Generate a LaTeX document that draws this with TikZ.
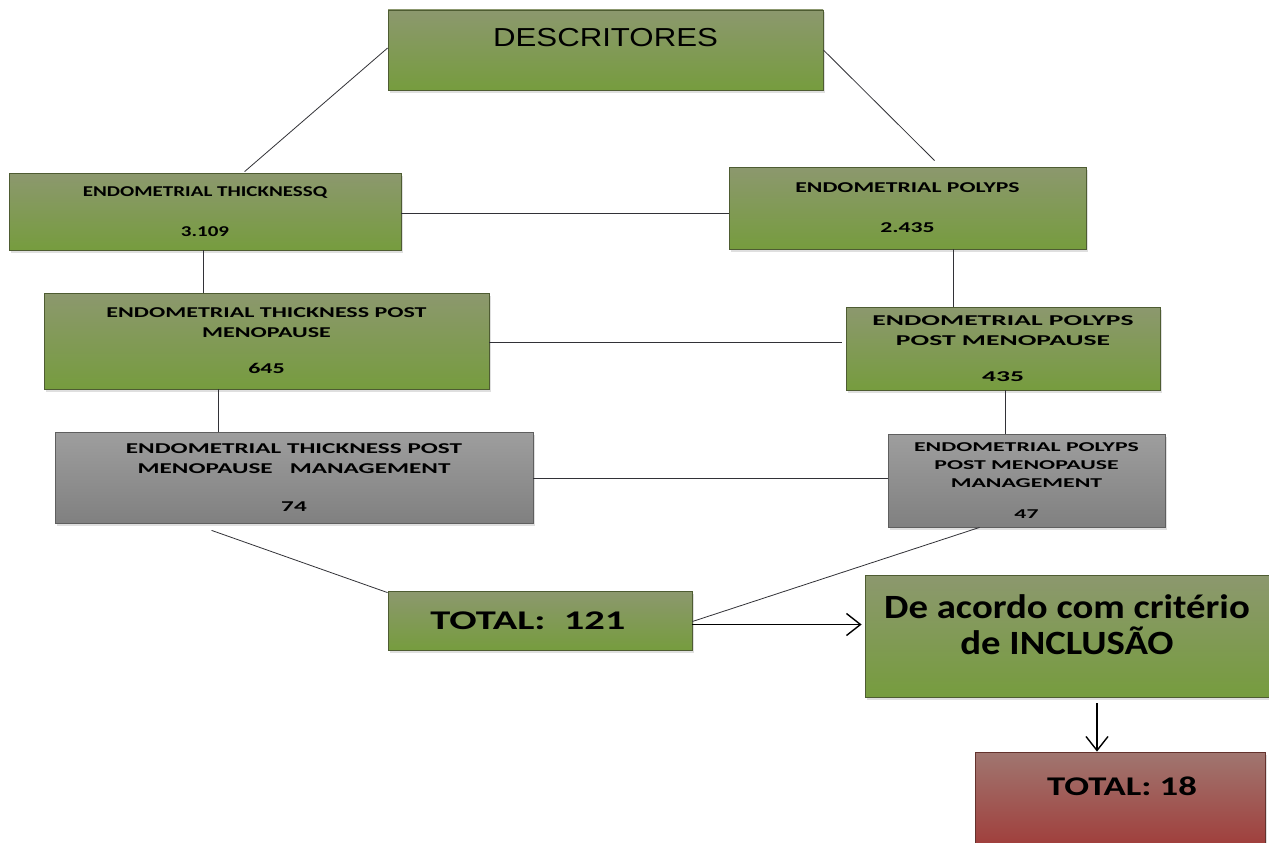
\documentclass[tikz,border=0pt]{standalone}
\usepackage{fontspec}
\setmainfont{Carlito}
\newfontfamily\csA[FakeStretch=1.4]{Carlito}
\newfontfamily\csB[FakeStretch=1.58]{Carlito}
\newfontfamily\csC[FakeStretch=1.6]{Carlito}
\newfontfamily\csD[FakeStretch=1.68]{Carlito}
\newfontfamily\csE[FakeStretch=1.84]{Carlito}
\newfontfamily\csF[FakeStretch=1.76]{Carlito}
\newfontfamily\csT[FakeStretch=1.5]{Carlito}
\newfontfamily\csR[FakeStretch=1.36]{Carlito}
\newfontfamily\csI[FakeStretch=1.14]{Carlito}
\newfontfamily\arialst[FakeStretch=1.2]{Liberation Sans}
\usetikzlibrary{shadows,arrows.meta,calc}
\definecolor{gtop}{RGB}{140,152,110}
\definecolor{gbot}{RGB}{118,156,62}
\definecolor{gline}{RGB}{78,92,50}
\definecolor{ytop}{RGB}{158,158,158}
\definecolor{ybot}{RGB}{128,128,128}
\definecolor{yline}{RGB}{95,95,95}
\definecolor{rtop}{RGB}{160,118,112}
\definecolor{rbot}{RGB}{160,48,46}
\definecolor{rline}{RGB}{100,50,45}
\definecolor{conn}{RGB}{50,50,55}
\tikzset{
  boxbase/.style={rectangle, inner sep=0pt, align=center, text=black,
    drop shadow={shadow xshift=1.5pt, shadow yshift=-2.5pt, opacity=0.25}},
  greenbox/.style={boxbase, draw=gline, line width=0.8pt, top color=gtop, bottom color=gbot},
  graybox/.style={boxbase, draw=yline, line width=0.8pt, top color=ytop, bottom color=ybot},
  redbox/.style={boxbase, draw=rline, line width=0.8pt, top color=rtop, bottom color=rbot},
  conline/.style={draw=conn, line width=0.8pt},
  conarrow/.style={draw=black, line width=1.4pt, -{Straight Barb[length=14pt,width=22pt,line width=1.4pt]}},
}
\begin{document}
\begin{tikzpicture}[x=1pt,y=-1pt]
\useasboundingbox (0,0) rectangle (1269,843);
\fill[white] (0,0) rectangle (1269,843);

\node[greenbox, minimum width=435pt, minimum height=80pt, text depth=26pt,
  font=\arialst\fontsize{26}{30}\selectfont] (desc) at (605.5,50) {DESCRITORES};

\node[greenbox, font=\csA\bfseries\fontsize{15}{20}\selectfont,
  minimum width=392pt, minimum height=77pt] (b1) at (205,211.5)
  {ENDOMETRIAL THICKNESSQ\\[20pt]3.109};
\node[greenbox, font=\csB\bfseries\fontsize{15}{20}\selectfont,
  minimum width=357pt, minimum height=82pt] (b2) at (907.5,208)
  {ENDOMETRIAL POLYPS\\[20pt]2.435};
\node[greenbox, font=\csC\bfseries\fontsize{15}{20}\selectfont,
  minimum width=445pt, minimum height=96pt] (b3) at (266.5,341)
  {ENDOMETRIAL THICKNESS POST\\MENOPAUSE\\[16pt]645};
\node[greenbox, font=\csE\bfseries\fontsize{15}{20}\selectfont,
  minimum width=314pt, minimum height=83pt] (b4) at (1003,348.5)
  {ENDOMETRIAL POLYPS\\POST MENOPAUSE\\[16pt]435};
\node[graybox, font=\csD\bfseries\fontsize{15}{20}\selectfont,
  minimum width=478pt, minimum height=91pt] (b5) at (294,477.5)
  {ENDOMETRIAL THICKNESS POST\\MENOPAUSE\ \ \ MANAGEMENT\\[18pt]74};
\node[graybox, font=\csF\bfseries\fontsize{13.5}{18}\selectfont,
  minimum width=277pt, minimum height=93pt] (b6) at (1026.5,480.5)
  {ENDOMETRIAL POLYPS\\POST MENOPAUSE\\MANAGEMENT\\[13pt]47};
\node[greenbox, minimum width=304pt, minimum height=59pt,
  font=\csT\bfseries\fontsize{27}{30}\selectfont] (b7) at (540,620.5) {TOTAL:\ \ 121\hspace{24pt}};
\node[greenbox, minimum width=404pt, minimum height=122pt, text depth=22pt,
  font=\csI\bfseries\fontsize{34}{36}\selectfont] (b8) at (1067,636)
  {De acordo com critério\\de INCLUSÃO};
\node[redbox, minimum width=290pt, minimum height=118pt, text depth=50pt,
  font=\csR\bfseries\fontsize{27}{30}\selectfont] (b9) at (1120,811) {\hspace{4pt}TOTAL: 18};

% connectors
\draw[conline] ($(desc.west)+(0,-2)$) -- ($(b1.north west)+(236,-1)$);
\draw[conline] (desc.east) -- ($(b2.north west)+(206,-6)$);
\draw[conline] (b1.east |- 0,213) -- (b2.west |- 0,213);
\draw[conline] (b1.south -| 203,0) -- (b3.north -| 203,0);
\draw[conline] (b2.south -| 953,0) -- (b4.north -| 953,0);
\draw[conline] (b3.east |- 0,342) -- ($(b4.west |- 0,342)+(-4,0)$);
\draw[conline] (b3.south -| 218,0) -- (b5.north -| 218,0);
\draw[conline] (b4.south -| 1005,0) -- (b6.north -| 1005,0);
\draw[conline] (b5.east |- 0,478) -- (b6.west |- 0,478);
\coordinate (s5) at ($(b5.south west)+(157,7)$);
\draw[conline] (s5) -- ($(b7.north west)+(0,2)$);
\draw[conline] ($(b6.south west)+(92,0)$) -- ($(b7.east)+(0,1)$);
\draw[conarrow] ($(b7.east)+(0,4)$) -- ($(b8.west |- b7.east)+(-3,4)$);
\draw[conarrow] ($(b8.south)+(30,6)$) -- ($(b9.north -| b8.south)+(30,0)$);
\end{tikzpicture}
\end{document}
